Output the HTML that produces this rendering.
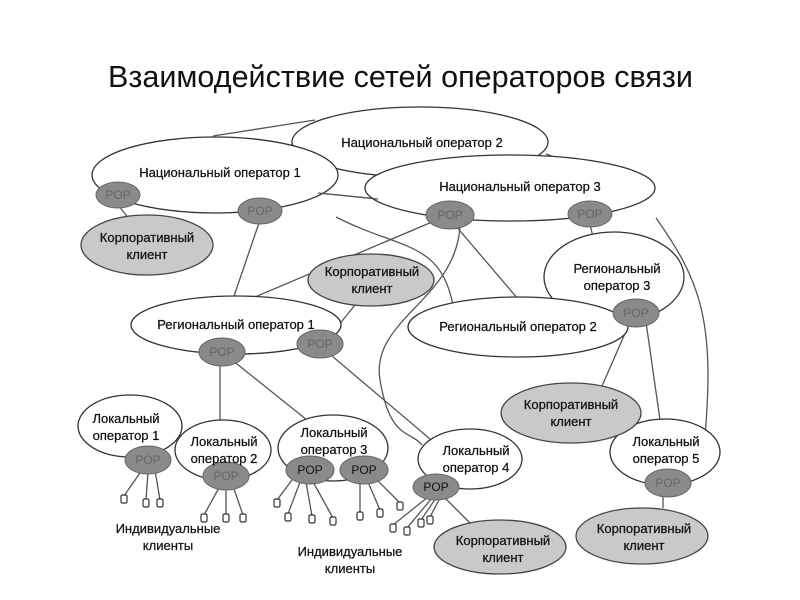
<!DOCTYPE html>
<html><head><meta charset="utf-8"><style>
html,body{margin:0;padding:0;background:#fff;}
svg{display:block}
text{font-family:"Liberation Sans",sans-serif;fill:#111;}
</style></head><body>
<svg width="800" height="600" viewBox="0 0 800 600" xmlns="http://www.w3.org/2000/svg">
<text x="108" y="87" font-size="31" textLength="585" lengthAdjust="spacingAndGlyphs">Взаимодействие сетей операторов связи</text>
<g stroke="#555" stroke-width="1.3" fill="none">
<line x1="213" y1="136" x2="315" y2="120"/>
<line x1="546" y1="154" x2="617" y2="181"/>
<line x1="318" y1="193" x2="378" y2="199"/>
<path d="M336,217 C400,250 440,240 453,305"/>
<path d="M656,218 C700,280 715,320 705,436"/>
<line x1="260" y1="220" x2="232" y2="302"/>
<line x1="118" y1="205" x2="130" y2="220"/>
<line x1="432" y1="222" x2="248" y2="300"/>
<line x1="455" y1="225" x2="518" y2="299"/>
<path d="M460,227 C455,300 370,320 380,380 S410,430 422,445"/>
<line x1="355" y1="305" x2="330" y2="336"/>
<line x1="325" y1="350" x2="443" y2="450"/>
<line x1="450" y1="215" x2="590" y2="214"/>
<line x1="590" y1="224" x2="595" y2="246"/>
<line x1="630" y1="322" x2="602" y2="386"/>
<line x1="646" y1="322" x2="660" y2="420"/>
<line x1="220" y1="360" x2="220" y2="420"/>
<line x1="232" y1="360" x2="307" y2="420"/>
<line x1="663" y1="492" x2="663" y2="508"/>
<line x1="444" y1="497" x2="470" y2="523"/>
<line x1="455" y1="484" x2="490" y2="482"/>
<line x1="334" y1="470" x2="342" y2="470"/>
<line x1="142" y1="470" x2="124" y2="496"/><line x1="148" y1="472" x2="146" y2="500"/><line x1="155" y1="470" x2="160" y2="500"/>
<line x1="220" y1="486" x2="204" y2="515"/><line x1="226" y1="488" x2="226" y2="515"/><line x1="233" y1="486" x2="243" y2="515"/>
<line x1="292" y1="480" x2="277" y2="500"/><line x1="300" y1="482" x2="288" y2="514"/><line x1="306" y1="482" x2="312" y2="516"/><line x1="312" y1="480" x2="333" y2="518"/>
<line x1="360" y1="482" x2="360" y2="513"/><line x1="368" y1="482" x2="380" y2="510"/><line x1="375" y1="478" x2="400" y2="503"/>
<line x1="428" y1="497" x2="393" y2="525"/><line x1="432" y1="498" x2="407" y2="528"/><line x1="436" y1="498" x2="421" y2="520"/><line x1="440" y1="498" x2="430" y2="517"/>
</g>
<g fill="#fff" stroke="#333" stroke-width="1.3">
<ellipse cx="420" cy="142" rx="128" ry="35"/>
<ellipse cx="215" cy="175" rx="123" ry="38"/>
<ellipse cx="510" cy="188" rx="145" ry="33"/>
<ellipse cx="614" cy="277" rx="70" ry="45"/>
<ellipse cx="236" cy="325" rx="105" ry="29"/>
<ellipse cx="518" cy="327" rx="110" ry="30"/>
<ellipse cx="130" cy="426" rx="52" ry="31"/>
<ellipse cx="223" cy="450" rx="48" ry="30"/>
<ellipse cx="333" cy="448" rx="55" ry="33"/>
<ellipse cx="470" cy="459" rx="52" ry="30"/>
<ellipse cx="665" cy="452" rx="55" ry="33"/>
</g>
<line x1="318" y1="193" x2="378" y2="199" stroke="#555" stroke-width="1.3"/>
<g fill="#c9c9c9" stroke="#444" stroke-width="1.3">
<ellipse cx="147" cy="245" rx="66" ry="30"/>
<ellipse cx="371" cy="280" rx="63" ry="26"/>
<ellipse cx="571" cy="413" rx="70" ry="30"/>
<ellipse cx="500" cy="547" rx="66" ry="27"/>
<ellipse cx="642" cy="536" rx="66" ry="28"/>
</g>
<g fill="#8a8a8a" stroke="#666" stroke-width="1">
<ellipse cx="118" cy="195" rx="22" ry="13"/>
<ellipse cx="260" cy="211" rx="22" ry="13"/>
<ellipse cx="450" cy="215" rx="24" ry="14"/>
<ellipse cx="590" cy="214" rx="22" ry="13"/>
<ellipse cx="222" cy="352" rx="23" ry="14"/>
<ellipse cx="320" cy="344" rx="23" ry="14"/>
<ellipse cx="636" cy="313" rx="23" ry="14"/>
<ellipse cx="148" cy="460" rx="23" ry="14"/>
<ellipse cx="226" cy="476" rx="23" ry="14"/>
<ellipse cx="310" cy="470" rx="24" ry="14"/>
<ellipse cx="364" cy="470" rx="24" ry="14"/>
<ellipse cx="436" cy="487" rx="23" ry="13"/>
<ellipse cx="668" cy="483" rx="23" ry="14"/>
</g>
<g fill="#fff" stroke="#333" stroke-width="1.2">
<rect x="121" y="495" width="6" height="8" rx="1.5"/><rect x="143" y="499" width="6" height="8" rx="1.5"/><rect x="157" y="499" width="6" height="8" rx="1.5"/>
<rect x="201" y="514" width="6" height="8" rx="1.5"/><rect x="223" y="514" width="6" height="8" rx="1.5"/><rect x="240" y="514" width="6" height="8" rx="1.5"/>
<rect x="274" y="499" width="6" height="8" rx="1.5"/><rect x="285" y="513" width="6" height="8" rx="1.5"/><rect x="309" y="515" width="6" height="8" rx="1.5"/><rect x="330" y="517" width="6" height="8" rx="1.5"/>
<rect x="357" y="512" width="6" height="8" rx="1.5"/><rect x="377" y="509" width="6" height="8" rx="1.5"/><rect x="397" y="502" width="6" height="8" rx="1.5"/>
<rect x="390" y="524" width="6" height="8" rx="1.5"/><rect x="404" y="527" width="6" height="8" rx="1.5"/><rect x="418" y="519" width="6" height="8" rx="1.5"/><rect x="427" y="516" width="6" height="8" rx="1.5"/>
</g>
<g font-size="13" text-anchor="middle" stroke="#111" stroke-width="0.25">
<text x="422" y="147">Национальный оператор 2</text>
<text x="220" y="177">Национальный оператор 1</text>
<text x="520" y="191">Национальный оператор 3</text>
<text x="617" y="273">Региональный</text><text x="617" y="290">оператор 3</text>
<text x="236" y="329">Региональный оператор 1</text>
<text x="518" y="331">Региональный оператор 2</text>
<text x="147" y="242">Корпоративный</text><text x="147" y="259">клиент</text>
<text x="372" y="276">Корпоративный</text><text x="372" y="293">клиент</text>
<text x="571" y="409">Корпоративный</text><text x="571" y="426">клиент</text>
<text x="503" y="545">Корпоративный</text><text x="503" y="562">клиент</text>
<text x="644" y="533">Корпоративный</text><text x="644" y="550">клиент</text>
<text x="126" y="423">Локальный</text><text x="126" y="440">оператор 1</text>
<text x="224" y="446">Локальный</text><text x="224" y="463">оператор 2</text>
<text x="334" y="437">Локальный</text><text x="334" y="454">оператор 3</text>
<text x="476" y="455">Локальный</text><text x="476" y="472">оператор 4</text>
<text x="666" y="446">Локальный</text><text x="666" y="463">оператор 5</text>
<text x="168" y="533">Индивидуальные</text><text x="168" y="550">клиенты</text>
<text x="350" y="556">Индивидуальные</text><text x="350" y="573">клиенты</text>
</g>
<g font-size="12" text-anchor="middle">
<text x="118" y="199" style="fill:#666">POP</text>
<text x="260" y="215" style="fill:#666">POP</text>
<text x="450" y="219" style="fill:#666">POP</text>
<text x="590" y="218" style="fill:#666">POP</text>
<text x="222" y="356" style="fill:#666">POP</text>
<text x="320" y="348" style="fill:#666">POP</text>
<text x="636" y="317" style="fill:#666">POP</text>
<text x="148" y="464" style="fill:#666">POP</text>
<text x="226" y="480" style="fill:#666">POP</text>
<text x="310" y="474" style="fill:#111">POP</text>
<text x="364" y="474" style="fill:#111">POP</text>
<text x="436" y="491" style="fill:#111">POP</text>
<text x="668" y="487" style="fill:#666">POP</text>
</g>
</svg>
</body></html>
